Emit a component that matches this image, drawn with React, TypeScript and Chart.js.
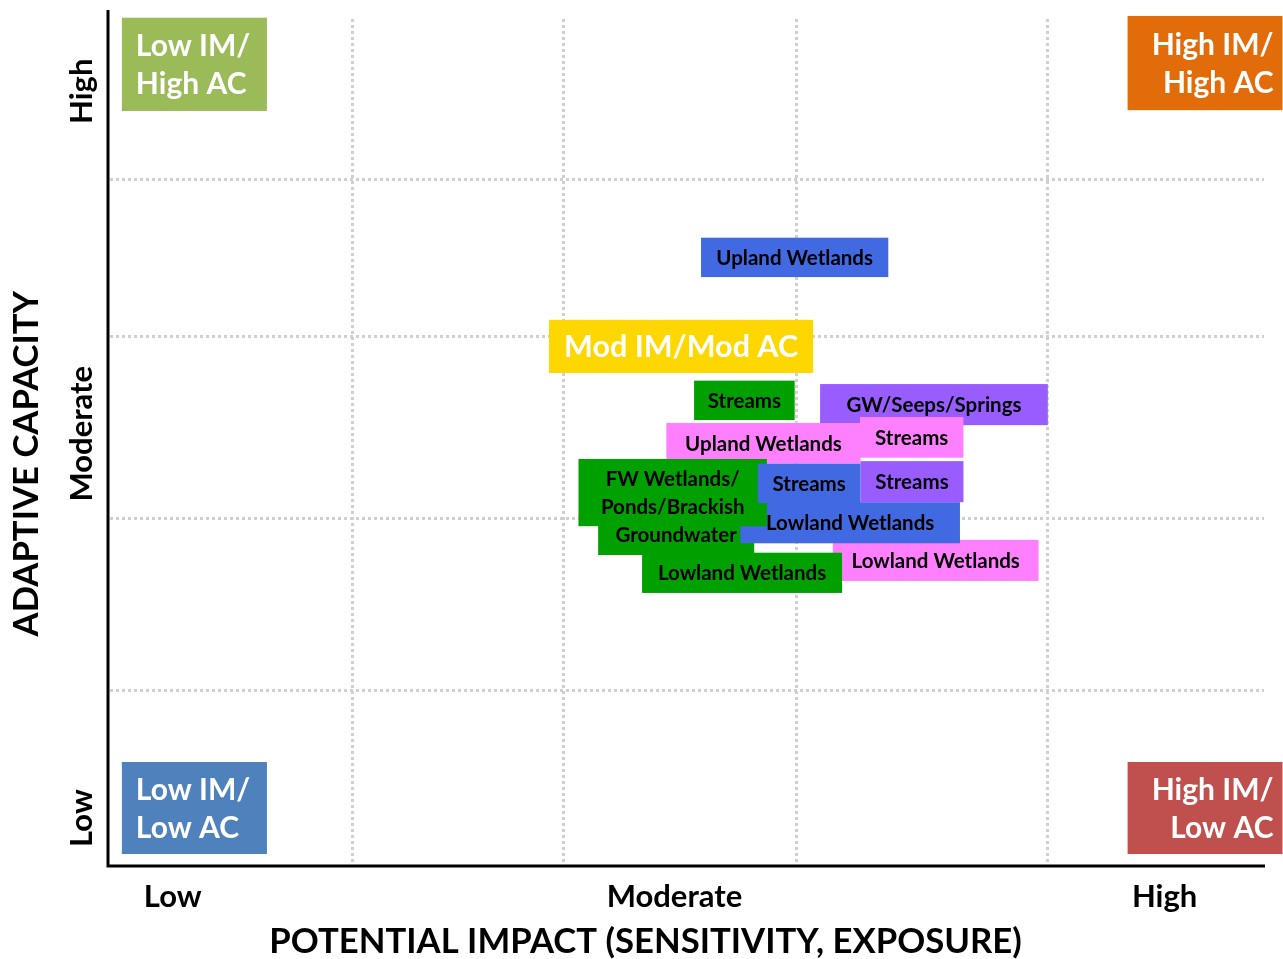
import React, { useEffect, useRef } from "react";
import { Chart, registerables } from "chart.js";

Chart.register(...registerables);

// Axis ranges (0..10 on both axes)
const X_MIN = 0;
const X_MAX = 10;
const Y_MIN = 0;
const Y_MAX = 10;

// Dotted grid positions
const xGridValues = [2.11, 3.94, 5.95, 8.12];
const yGridValues = [2.06, 4.07, 6.19, 8.03];

// Axis category labels
const xTickLabels = ["Low", "Moderate", "High"];
const xTickValues = [0.56, 4.9, 9.14];
const yTickLabels = ["Low", "Moderate", "High"];
const yTickValues = [0.56, 5.05, 9.05];

const xTitle = "POTENTIAL IMPACT (SENSITIVITY, EXPOSURE)";
const yTitle = "ADAPTIVE CAPACITY";

// Quadrant reference boxes
const quadLabels = [
  ["Low IM/", "High AC"],
  ["High IM/", "High AC"],
  ["Low IM/", "Low AC"],
  ["High IM/", "Low AC"],
];
const quadX = [
  [0.12, 1.375],
  [8.82, 10.16],
  [0.12, 1.375],
  [8.82, 10.16],
];
const quadY = [
  [8.82, 9.91],
  [8.83, 9.93],
  [0.14, 1.215],
  [0.14, 1.215],
];
const quadColors = ["#9BBB59", "#E36C0A", "#4F81BD", "#C0504D"];
const quadAlign: CanvasTextAlign[] = ["left", "right", "left", "right"];

// Assessment boxes (in drawing order)
const habitatLabels = [
  ["Upland Wetlands"],
  ["Mod IM/Mod AC"],
  ["Streams"],
  ["GW/Seeps/Springs"],
  ["Upland Wetlands"],
  ["Streams"],
  ["Lowland Wetlands"],
  ["Groundwater"],
  ["Lowland Wetlands"],
  ["FW Wetlands/", "Ponds/Brackish"],
  ["Streams"],
  ["Streams"],
  ["Lowland Wetlands"],
];
const habitatX = [
  [5.13, 6.75],
  [3.815, 6.1],
  [5.07, 5.94],
  [6.16, 8.13],
  [4.83, 6.51],
  [6.505, 7.4],
  [6.27, 8.05],
  [4.24, 5.59],
  [5.47, 7.37],
  [4.07, 5.7],
  [5.62, 6.51],
  [6.51, 7.4],
  [4.62, 6.35],
];
const habitatY = [
  [6.88, 7.34],
  [5.76, 6.38],
  [5.21, 5.67],
  [5.15, 5.63],
  [4.7, 5.175],
  [4.77, 5.245],
  [3.33, 3.81],
  [3.633, 4.124],
  [3.77, 4.25],
  [3.97, 4.755],
  [4.24, 4.7],
  [4.25, 4.73],
  [3.19, 3.66],
];
const habitatSeries = [
  "blue",
  "mod",
  "green",
  "purple",
  "pink",
  "pink",
  "pink",
  "green",
  "blue",
  "green",
  "blue",
  "purple",
  "green",
];

const seriesColors: Record<string, string> = {
  blue: "#4169E1",
  green: "#00A000",
  purple: "#985CFF",
  pink: "#FF80FF",
  mod: "#FFD700",
};

const FONT = "Lato, 'Open Sans', sans-serif";

const drawPlugin = {
  id: "quadrantDraw",
  afterDraw(chart: any) {
    const { ctx, chartArea, scales } = chart;
    const xs = scales.x;
    const ys = scales.y;
    const { left, right, top, bottom } = chartArea;
    ctx.save();

    // dotted grid
    ctx.strokeStyle = "#D0D0D0";
    ctx.lineWidth = 3;
    ctx.setLineDash([3, 3]);
    xGridValues.forEach((v) => {
      const px = Math.round(xs.getPixelForValue(v)) + 0.5;
      ctx.beginPath();
      ctx.moveTo(px, top + 9);
      ctx.lineTo(px, bottom);
      ctx.stroke();
    });
    yGridValues.forEach((v) => {
      const py = Math.round(ys.getPixelForValue(v)) + 0.5;
      ctx.beginPath();
      ctx.moveTo(left + 2, py);
      ctx.lineTo(right, py);
      ctx.stroke();
    });
    ctx.setLineDash([]);

    // axis lines
    ctx.strokeStyle = "#000";
    ctx.lineWidth = 3;
    ctx.beginPath();
    ctx.moveTo(left, top);
    ctx.lineTo(left, bottom);
    ctx.lineTo(right + 1, bottom);
    ctx.stroke();

    const drawBox = (
      x: number[],
      y: number[],
      color: string,
      lines: string[],
      font: string,
      textColor: string,
      align: CanvasTextAlign,
      lineH: number
    ) => {
      const x0 = xs.getPixelForValue(x[0]);
      const x1 = xs.getPixelForValue(x[1]);
      const y0 = ys.getPixelForValue(y[1]);
      const y1 = ys.getPixelForValue(y[0]);
      ctx.fillStyle = color;
      ctx.fillRect(x0, y0, x1 - x0, y1 - y0);
      ctx.fillStyle = textColor;
      ctx.font = font;
      ctx.textBaseline = "middle";
      ctx.textAlign = align;
      const cy = (y0 + y1) / 2;
      const tx = align === "left" ? x0 + 14 : align === "right" ? x1 - 9 : (x0 + x1) / 2;
      const n = lines.length;
      lines.forEach((l, i) => {
        ctx.fillText(l, tx, cy + (i - (n - 1) / 2) * lineH + 1);
      });
    };

    // habitat boxes
    habitatLabels.forEach((lines, i) => {
      const s = habitatSeries[i];
      if (s === "mod") {
        drawBox(habitatX[i], habitatY[i], seriesColors[s], lines, `bold 30.5px ${FONT}`, "#FFFFFF", "center", 38);
      } else {
        drawBox(habitatX[i], habitatY[i], seriesColors[s], lines, `bold 20.5px ${FONT}`, "#000000", "center", 28);
      }
    });

    // quadrant boxes
    quadLabels.forEach((lines, i) => {
      drawBox(quadX[i], quadY[i], quadColors[i], lines, `bold 30px ${FONT}`, "#FFFFFF", quadAlign[i], 38);
    });

    // axis category labels
    ctx.fillStyle = "#000";
    ctx.font = `bold 31px ${FONT}`;
    ctx.textAlign = "center";
    ctx.textBaseline = "middle";
    xTickLabels.forEach((l, i) => {
      ctx.fillText(l, xs.getPixelForValue(xTickValues[i]), bottom + 31);
    });
    yTickLabels.forEach((l, i) => {
      ctx.save();
      ctx.translate(left - 26, ys.getPixelForValue(yTickValues[i]));
      ctx.rotate(-Math.PI / 2);
      ctx.fillText(l, 0, 0);
      ctx.restore();
    });

    // titles
    ctx.font = `bold 34.7px ${FONT}`;
    ctx.fillText(xTitle, xs.getPixelForValue(4.65), bottom + 76);
    ctx.save();
    ctx.translate(left - 81, ys.getPixelForValue(4.7));
    ctx.rotate(-Math.PI / 2);
    ctx.fillText(yTitle, 0, 0);
    ctx.restore();

    ctx.restore();
  },
};

export default function App() {
  const canvasRef = useRef<HTMLCanvasElement | null>(null);

  useEffect(() => {
    if (!canvasRef.current) return;
    const chart = new Chart(canvasRef.current, {
      type: "scatter",
      data: { datasets: [{ data: [] }] },
      options: {
        responsive: false,
        animation: false,
        devicePixelRatio: 1,
        layout: { padding: { left: 108, top: 10, right: 19, bottom: 93 } },
        plugins: { legend: { display: false }, tooltip: { enabled: false } },
        scales: {
          x: { type: "linear", min: X_MIN, max: X_MAX, display: false },
          y: { type: "linear", min: Y_MIN, max: Y_MAX, display: false },
        },
      },
      plugins: [drawPlugin],
    });
    return () => chart.destroy();
  }, []);

  return (
    <div style={{ position: "absolute", left: 0, top: 0, width: 1283, height: 959, background: "#fff" }}>
      <canvas ref={canvasRef} width={1283} height={959} />
    </div>
  );
}
